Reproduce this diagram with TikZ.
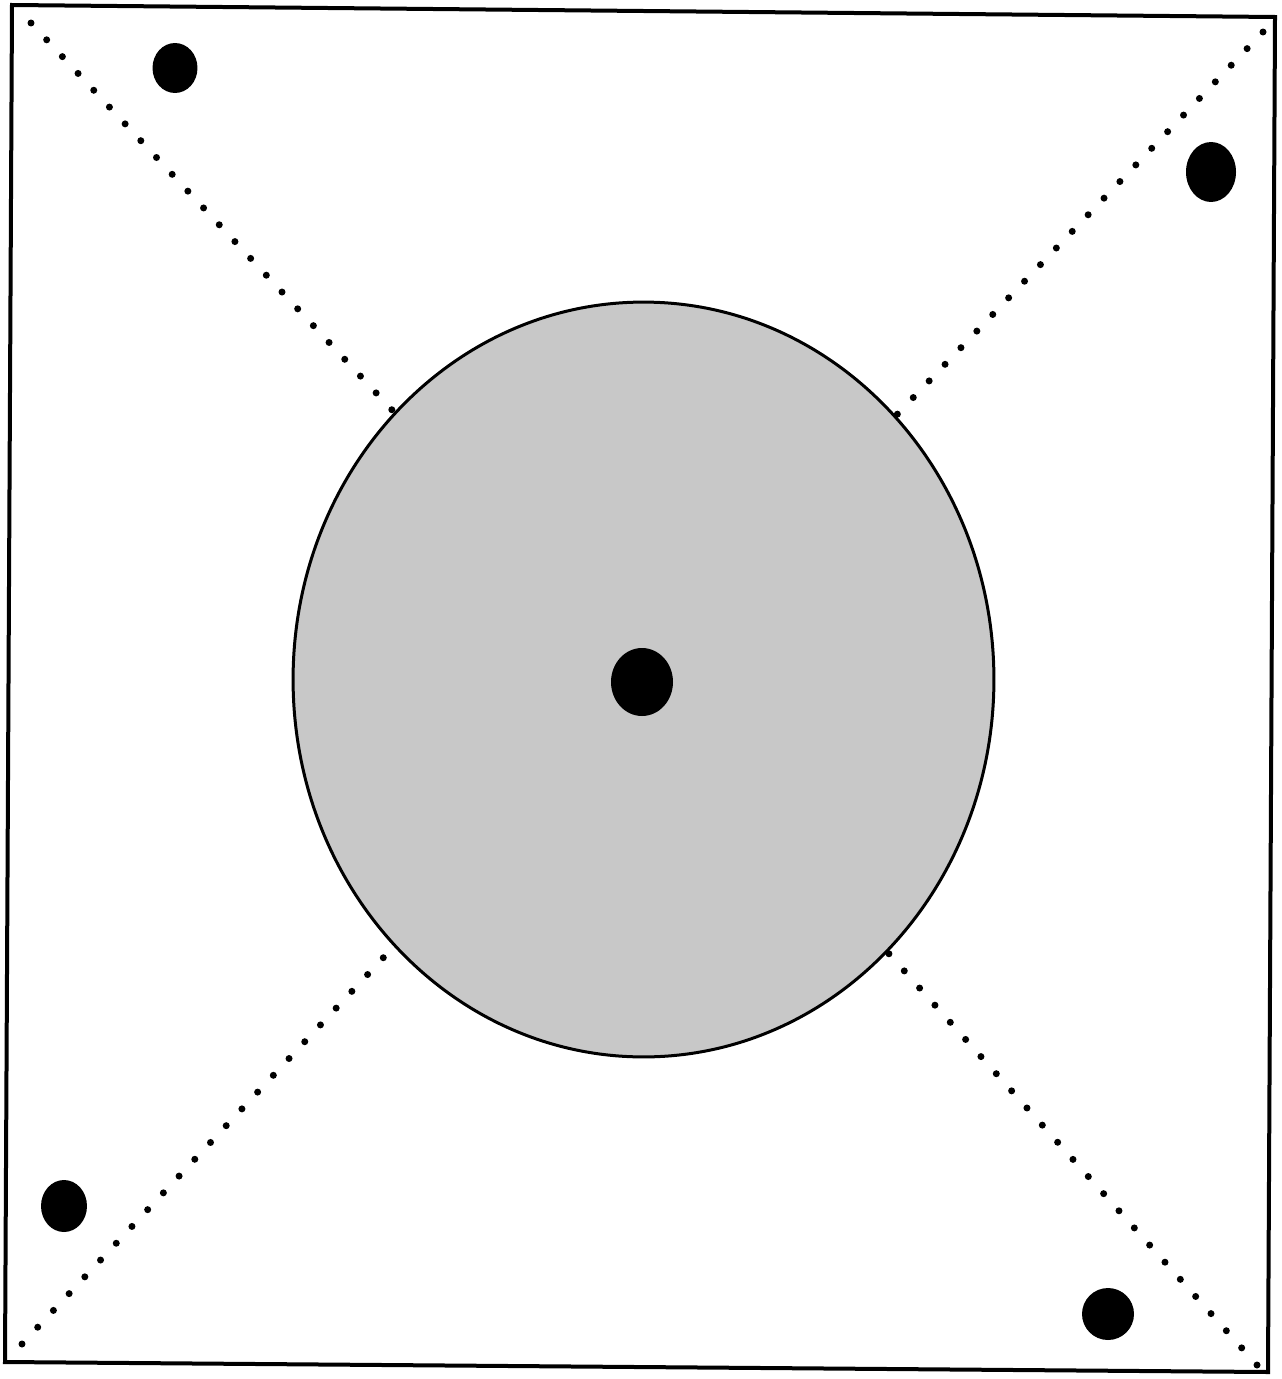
\documentclass[tikz,border=0pt]{standalone}
\usetikzlibrary{positioning,shapes.geometric}
\definecolor{discgray}{RGB}{200,200,200}
\tikzset{
  frame/.style={draw=black, line width=0.08cm, line join=miter},
  disc/.style={ellipse, draw=black, fill=discgray, line width=0.06cm, inner sep=0pt,
               minimum width=14.02cm, minimum height=15.1cm},
  blob/.style={ellipse, fill=black, inner sep=0pt},
  dotline/.style={draw=black, line width=0.14cm, line cap=round, dash pattern=on 0pt off 0.46cm},
}
\begin{document}
\begin{tikzpicture}[x=0.02cm, y=-0.02cm]
    \useasboundingbox (0,0) rectangle (1281,1379);
    % outer frame (scan is slightly tilted)
    \coordinate (fTL) at (12,5);
    \coordinate (fTR) at (1275,17);
    \coordinate (fBR) at (1268,1372);
    \coordinate (fBL) at (5,1362);
    \draw[frame] (fTL) -- (fTR) -- (fBR) -- (fBL) -- cycle;
    % start points of the dotted rays
    \coordinate (rTL) at (31,23);
    \coordinate (rTR) at (1263,32);
    \coordinate (rBL) at (22,1344);
    \coordinate (rBR) at (1257,1365);
    \node[disc] (plate) at (643.5,679.5) {};
    \draw[dotline] (rTL) -- (plate);
    \draw[dotline] (rTR) -- (plate);
    \draw[dotline] (rBL) -- (plate);
    \draw[dotline] (rBR) -- (plate);
    % dots
    \node[blob, minimum width=1.24cm, minimum height=1.36cm] (dC) at (642,682) {};
    \node[blob, minimum width=0.9cm, minimum height=1.0cm] (dTL) at (175,68) {};
    \node[blob, minimum width=1.0cm, minimum height=1.2cm] (dTR) at (1211,172) {};
    \node[blob, minimum width=0.92cm, minimum height=1.04cm] (dBL) at (64,1206) {};
    \node[blob, minimum width=1.04cm, minimum height=1.04cm] (dBR) at (1108,1314) {};
\end{tikzpicture}
\end{document}
